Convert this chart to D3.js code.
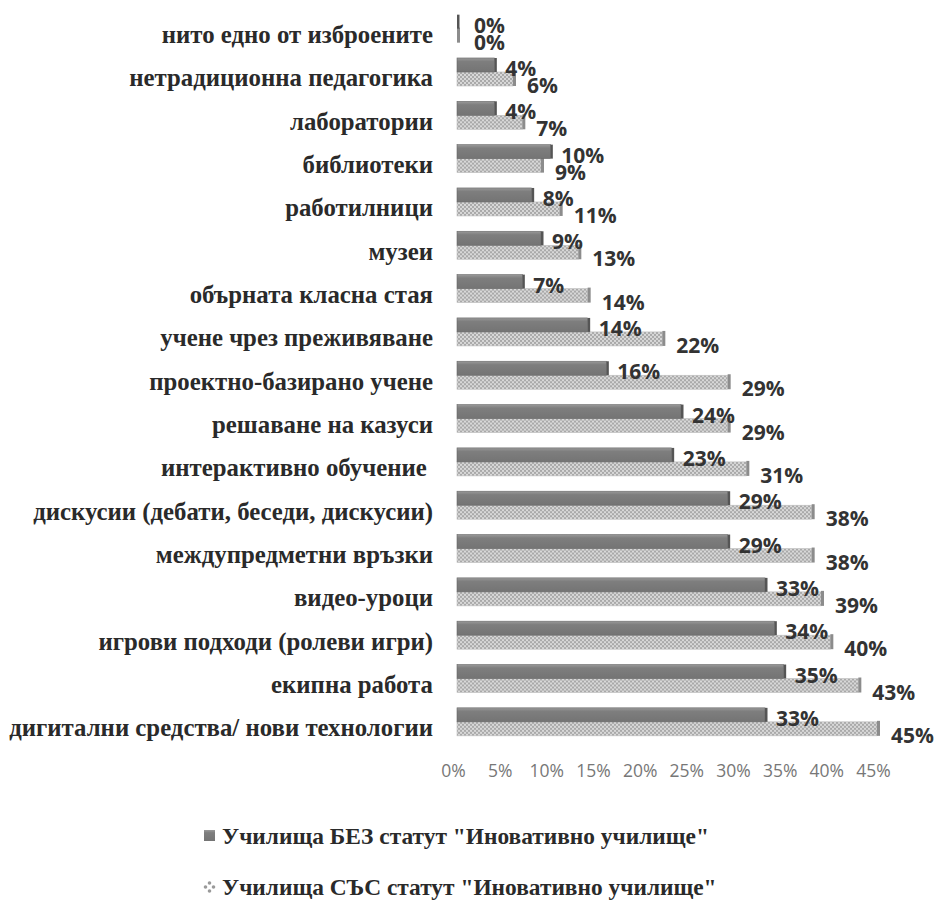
<!DOCTYPE html>
<html>
<head>
<meta charset="utf-8">
<script src="https://cdn.jsdelivr.net/npm/d3@7"></script>
<style>
  body { margin: 0; background: #fff; }
  svg { display: block; }
</style>
</head>
<body>
<svg id="chart" width="937" height="906"></svg>
<script>
// categories, top to bottom
const categories = [
  "нито едно от изброените",
  "нетрадиционна педагогика",
  "лаборатории",
  "библиотеки",
  "работилници",
  "музеи",
  "обърната класна стая",
  "учене чрез преживяване",
  "проектно-базирано учене",
  "решаване на казуси",
  "интерактивно обучение ",
  "дискусии (дебати, беседи, дискусии)",
  "междупредметни връзки",
  "видео-уроци",
  "игрови подходи (ролеви игри)",
  "екипна работа",
  "дигитални средства/ нови технологии"
];
// Училища БЕЗ статут
const withoutStatus = [0, 4, 4, 10, 8, 9, 7, 14, 16, 24, 23, 29, 29, 33, 34, 35, 33];
// Училища СЪС статут
const withStatus = [0, 6, 7, 9, 11, 13, 14, 22, 29, 29, 31, 38, 38, 39, 40, 43, 45];
const seriesNames = ['Училища БЕЗ статут "Иновативно училище"', 'Училища СЪС статут "Иновативно училище"'];
const xTicks = [0, 5, 10, 15, 20, 25, 30, 35, 40, 45];

const svg = d3.select("#chart");
const defs = svg.append("defs");

// dark bar gradient
const grad = defs.append("linearGradient").attr("id", "darkGrad")
  .attr("x1", 0).attr("y1", 0).attr("x2", 0).attr("y2", 1);
grad.append("stop").attr("offset", "0%").attr("stop-color", "#9a9a9a");
grad.append("stop").attr("offset", "25%").attr("stop-color", "#7e7e7e");
grad.append("stop").attr("offset", "100%").attr("stop-color", "#747474");

// light bar checker pattern
const pat = defs.append("pattern").attr("id", "lightPat")
  .attr("width", 4).attr("height", 4).attr("patternUnits", "userSpaceOnUse");
pat.append("rect").attr("width", 4).attr("height", 4).attr("fill", "#d8d8d8");
pat.append("rect").attr("width", 2).attr("height", 2).attr("fill", "#a9a9a9");
pat.append("rect").attr("x", 2).attr("y", 2).attr("width", 2).attr("height", 2).attr("fill", "#a9a9a9");

const x = d3.scaleLinear().domain([0, 45]).range([457, 877]);
const y = d3.scaleBand().domain(categories).range([7, 743.5]).padding(0);
const barH = 14;
const serif = "'Liberation Serif', 'Times New Roman', serif";
const sans = "'Open Sans', sans-serif";

const rows = categories.map((c, i) => ({cat: c, a: withoutStatus[i], b: withStatus[i]}));

const g = svg.append("g");
const row = g.selectAll("g.row").data(rows).join("g").attr("class", "row")
  .attr("transform", d => `translate(0,${y(d.cat) + y.bandwidth() / 2})`);

// light bars (СЪС), lower
row.append("rect")
  .attr("x", x(0)).attr("y", 0)
  .attr("width", d => x(d.b) - x(0)).attr("height", barH)
  .attr("fill", "url(#lightPat)").attr("stroke", "#bdbdbd").attr("stroke-width", 0.6);
row.append("rect")
  .attr("x", d => x(d.b)).attr("y", -1)
  .attr("width", 3).attr("height", barH + 1)
  .attr("fill", "#8c8c8c");

// dark bars (БЕЗ), upper
row.append("rect")
  .attr("x", x(0)).attr("y", -barH)
  .attr("width", d => x(d.a) - x(0)).attr("height", barH)
  .attr("fill", "url(#darkGrad)").attr("stroke", "#666").attr("stroke-width", 0.6);
row.append("rect")
  .attr("x", d => x(d.a)).attr("y", -barH)
  .attr("width", 2.5).attr("height", barH)
  .attr("fill", "#555");

// value labels
row.append("text")
  .attr("x", d => x(d.a) + (d.a === 0 ? 17 : 11)).attr("y", -barH / 2 + 3)
  .attr("dominant-baseline", "central")
  .style("font-family", sans).style("font-weight", 700)
  .style("font-size", "21px").attr("fill", "#333")
  .text(d => d.a + "%");
row.append("text")
  .attr("x", d => x(d.b) + (d.b === 0 ? 17 : 14)).attr("y", barH / 2 + 6)
  .attr("dominant-baseline", "central")
  .style("font-family", sans).style("font-weight", 700)
  .style("font-size", "21px").attr("fill", "#333")
  .text(d => d.b + "%");

// category labels
row.append("text")
  .attr("x", 433).attr("y", 6)
  .attr("text-anchor", "end").attr("dominant-baseline", "central")
  .style("font-family", serif).style("font-weight", 700)
  .style("font-size", "24.8px").attr("fill", "#2a2a2a")
  .attr("xml:space", "preserve")
  .text(d => d.cat);

// x axis labels
const xAxis = d3.axisBottom(x).tickValues(xTicks).tickFormat(d => d + "%").tickSize(0);
const ax = svg.append("g").attr("transform", "translate(-4,762)").call(xAxis);
ax.select(".domain").remove();
ax.selectAll("text")
  .style("font-family", sans).style("font-size", "17.5px")
  .attr("fill", "#777");

// legend
const legend = svg.append("g");
const leg1 = legend.append("g").attr("transform", "translate(204,836)");
leg1.append("rect").attr("x", 0).attr("y", -6).attr("width", 11).attr("height", 11)
  .attr("fill", "url(#darkGrad)");
leg1.append("text").attr("x", 18).attr("y", 0).attr("dominant-baseline", "central")
  .style("font-family", serif).style("font-weight", 700)
  .style("font-size", "23.4px").attr("fill", "#2a2a2a")
  .text(seriesNames[0]);

const leg2 = legend.append("g").attr("transform", "translate(204,887)");
[[5.5, -4], [1.5, 0], [9.5, 0], [5.5, 4]].forEach(p => {
  leg2.append("circle").attr("cx", p[0]).attr("cy", p[1]).attr("r", 1.8)
    .attr("fill", "#9a9a9a");
});
leg2.append("text").attr("x", 18).attr("y", 0).attr("dominant-baseline", "central")
  .style("font-family", serif).style("font-weight", 700)
  .style("font-size", "23.4px").attr("fill", "#2a2a2a")
  .text(seriesNames[1]);
</script>
</body>
</html>
